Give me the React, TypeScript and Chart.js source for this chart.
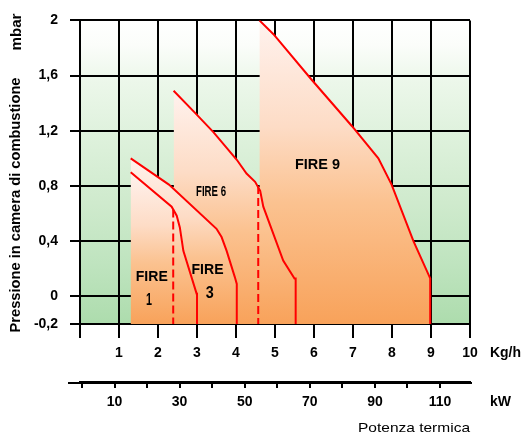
import React, { useEffect, useRef } from 'react';
import { Chart, registerables } from 'chart.js';

Chart.register(...registerables);

// ---- data ----
const yTicks = [-0.2, 0, 0.4, 0.8, 1.2, 1.6, 2];
const kgTicks = [0, 1, 2, 3, 4, 5, 6, 7, 8, 9, 10];
const kwTicks = [0, 10, 20, 30, 40, 50, 60, 70, 80, 90, 100, 110];
const kwLabels = [10, 30, 50, 70, 90, 110];

const fire1X = [1.3, 2.35, 2.48, 2.56, 2.65, 2.99, 3.0, 3.0];
const fire1Y = [0.9, 0.65, 0.585, 0.5, 0.33, 0.02, 0.02, -0.2];

const fire3X = [1.3, 2.28, 3.5, 3.63, 3.76, 3.97, 4.02, 4.02];
const fire3Y = [1.0, 0.81, 0.49, 0.43, 0.33, 0.14, 0.09, -0.2];

const fire6X = [2.4, 2.95, 3.42, 4.02, 4.27, 4.49, 4.62, 4.7, 5.21, 5.5, 5.53, 5.53];
const fire6Y = [1.49, 1.33, 1.19, 0.99, 0.89, 0.83, 0.765, 0.65, 0.26, 0.13, 0.13, -0.2];

const fire9X = [4.6, 4.96, 5.94, 6.97, 7.65, 7.99, 8.55, 8.98, 8.98];
const fire9Y = [2.0, 1.9, 1.57, 1.235, 1.0, 0.81, 0.4, 0.13, -0.2];

const dashAX = [2.39, 2.39];
const dashAY = [0.63, -0.2];
const dashBX = [4.57, 4.57];
const dashBY = [0.8, -0.2];

const fireNames = ['FIRE 1', 'FIRE 3', 'FIRE 6', 'FIRE 9'];

const FONT = "'Liberation Sans', Arial, sans-serif";

function pts(xs: number[], ys: number[]) {
  return xs.map((x, i) => ({ x, y: ys[i] }));
}

function orangeFill(chart: any, topVal: number) {
  const { ctx, chartArea, scales } = chart;
  if (!chartArea || !scales.y) return '#fbbf8a';
  const y0 = scales.y.getPixelForValue(topVal);
  const y1 = scales.y.getPixelForValue(-0.2);
  const g = ctx.createLinearGradient(0, y0, 0, y1);
  g.addColorStop(0, '#fff2ee');
  g.addColorStop(0.35, '#fddcc6');
  g.addColorStop(0.6, '#fbc290');
  g.addColorStop(1, '#f8a25a');
  return g;
}

function fitText(ctx: CanvasRenderingContext2D, text: string, x: number, y: number, size: number, width: number, weight: string, rotate = 0, align: CanvasTextAlign = 'center') {
  ctx.save();
  ctx.font = `${weight} ${size}px ${FONT}`;
  const w = ctx.measureText(text).width;
  ctx.translate(x, y);
  if (rotate) ctx.rotate(rotate);
  ctx.scale(width / w, 1);
  ctx.textAlign = align;
  ctx.textBaseline = 'middle';
  ctx.fillStyle = '#000';
  ctx.fillText(text, 0, 0);
  ctx.restore();
}

const customPlugin = {
  id: 'custom',
  beforeDraw(chart: any) {
    const { ctx, chartArea } = chart;
    const { left, top, right, bottom } = chartArea;
    const g = ctx.createLinearGradient(0, top, 0, bottom);
    g.addColorStop(0, '#ffffff');
    g.addColorStop(0.08, '#fbfdfa');
    g.addColorStop(0.2, '#ecf7ea');
    g.addColorStop(0.4, '#ddf1db');
    g.addColorStop(0.6, '#cfeacd');
    g.addColorStop(0.8, '#bfe4bf');
    g.addColorStop(1, '#addcad');
    ctx.save();
    ctx.fillStyle = g;
    ctx.fillRect(left, top, right - left, bottom - top);
    ctx.restore();
  },
  afterDraw(chart: any) {
    const { ctx, scales } = chart;
    const xs = scales.x;
    const ys = scales.y;
    const x2 = scales.x2;
    // extended kW axis line
    ctx.save();
    ctx.strokeStyle = '#000';
    ctx.lineWidth = 2;
    ctx.beginPath();
    ctx.moveTo(68, x2.top + 1);
    ctx.lineTo(472, x2.top + 1);
    ctx.stroke();
    ctx.restore();

    // region labels
    fitText(ctx, 'FIRE', xs.getPixelForValue(1.84), ys.getPixelForValue(0.145), 15, 32, 'bold');
    fitText(ctx, '1', xs.getPixelForValue(1.77), ys.getPixelForValue(-0.03), 16, 6, 'bold');
    fitText(ctx, 'FIRE', xs.getPixelForValue(3.27), ys.getPixelForValue(0.195), 15, 32, 'bold');
    fitText(ctx, '3', xs.getPixelForValue(3.33), ys.getPixelForValue(0.02), 16, 8, 'bold');
    fitText(ctx, fireNames[2], xs.getPixelForValue(3.36), ys.getPixelForValue(0.76), 15, 30, 'bold');
    fitText(ctx, fireNames[3], xs.getPixelForValue(6.09), ys.getPixelForValue(0.955), 15, 45, 'bold');

    // axis titles
    fitText(ctx, 'Pressione in camera di combustione', 16, 205, 15, 255, 'bold', -Math.PI / 2);
    fitText(ctx, 'mbar', 17, 32, 15, 37, 'bold', -Math.PI / 2);
    fitText(ctx, 'Kg/h', 490, 353, 14, 31, 'bold', 0, 'left');
    fitText(ctx, 'kW', 490, 402, 14, 21, 'bold', 0, 'left');
    fitText(ctx, 'Potenza termica', 414, 428, 13, 112, 'normal');
  },
};

export default function App() {
  const ref = useRef<HTMLCanvasElement>(null);

  useEffect(() => {
    if (!ref.current) return;
    const redLine = (xs: number[], ys: number[], fillTop: number | null, dashed = false) => ({
      data: pts(xs, ys),
      xAxisID: 'x',
      yAxisID: 'y',
      borderColor: '#ff0000',
      borderWidth: 2,
      borderDash: dashed ? [8, 4] : [],
      pointRadius: 0,
      tension: 0,
      fill: fillTop === null ? false : 'start',
      backgroundColor: fillTop === null ? 'rgba(0,0,0,0)' : (c: any) => orangeFill(c.chart, fillTop),
    });
    const maxOf = (a: number[]) => Math.max(...a);
    const chart = new Chart(ref.current, {
      type: 'line',
      data: {
        datasets: [
          { label: fireNames[0], ...redLine(fire1X, fire1Y, maxOf(fire1Y)) },
          { label: fireNames[1], ...redLine(fire3X, fire3Y, maxOf(fire3Y)) },
          { label: fireNames[2], ...redLine(fire6X, fire6Y, maxOf(fire6Y)) },
          { label: fireNames[3], ...redLine(fire9X, fire9Y, maxOf(fire9Y)) },
          { label: 'min A', ...redLine(dashAX, dashAY, null, true) },
          { label: 'min B', ...redLine(dashBX, dashBY, null, true) },
        ] as any,
      },
      options: {
        animation: false,
        responsive: false,
        maintainAspectRatio: false,
        layout: { padding: { top: 19, right: 52, left: 0, bottom: 0 } },
        plugins: {
          legend: { display: false },
          tooltip: { enabled: false },
          filler: { drawTime: 'beforeDatasetsDraw' } as any,
        },
        scales: {
          x: {
            type: 'linear',
            position: 'bottom',
            min: 0,
            max: 10,
            weight: 0,
            afterFit: (s: any) => { s.height = 58; },
            afterBuildTicks: (s: any) => { s.ticks = kgTicks.map((v) => ({ value: v })); },
            ticks: {
              callback: (v: any) => (v === 0 ? '' : String(v)),
              color: '#000',
              font: { family: FONT, size: 14, weight: 'bold' },
              padding: 7,
              autoSkip: false,
              maxRotation: 0,
            },
            grid: { color: '#000', lineWidth: 2, tickLength: 14 },
            border: { color: '#000', width: 2 },
          },
          x2: {
            type: 'linear',
            position: 'bottom',
            min: -0.6,
            max: 119.2,
            weight: 1,
            afterFit: (s: any) => { s.height = 53; },
            afterBuildTicks: (s: any) => { s.ticks = kwTicks.map((v) => ({ value: v })); },
            ticks: {
              callback: (v: any) => (kwLabels.includes(v) ? String(v) : ''),
              color: '#000',
              font: { family: FONT, size: 14, weight: 'bold' },
              padding: 6,
              autoSkip: false,
              maxRotation: 0,
            },
            grid: { drawOnChartArea: false, color: '#000', lineWidth: 2, tickLength: 6 },
            border: { color: '#000', width: 2 },
          },
          y: {
            type: 'linear',
            min: -0.2,
            max: 2,
            afterFit: (s: any) => { s.width = 80; },
            afterBuildTicks: (s: any) => { s.ticks = yTicks.map((v) => ({ value: v })); },
            ticks: {
              callback: (v: any) => String(v).replace('.', ','),
              color: '#000',
              font: { family: FONT, size: 14, weight: 'bold' },
              padding: 12,
              autoSkip: false,
            },
            grid: { color: '#000', lineWidth: 2, tickLength: 10 },
            border: { color: '#000', width: 2 },
          },
        },
      } as any,
      plugins: [customPlugin],
    });
    return () => chart.destroy();
  }, []);

  return (
    <div style={{ position: 'fixed', left: 0, top: 0, width: 522, height: 435, background: '#fff' }}>
      <canvas ref={ref} width={522} height={435} style={{ display: 'block', width: 522, height: 435 }} />
    </div>
  );
}
